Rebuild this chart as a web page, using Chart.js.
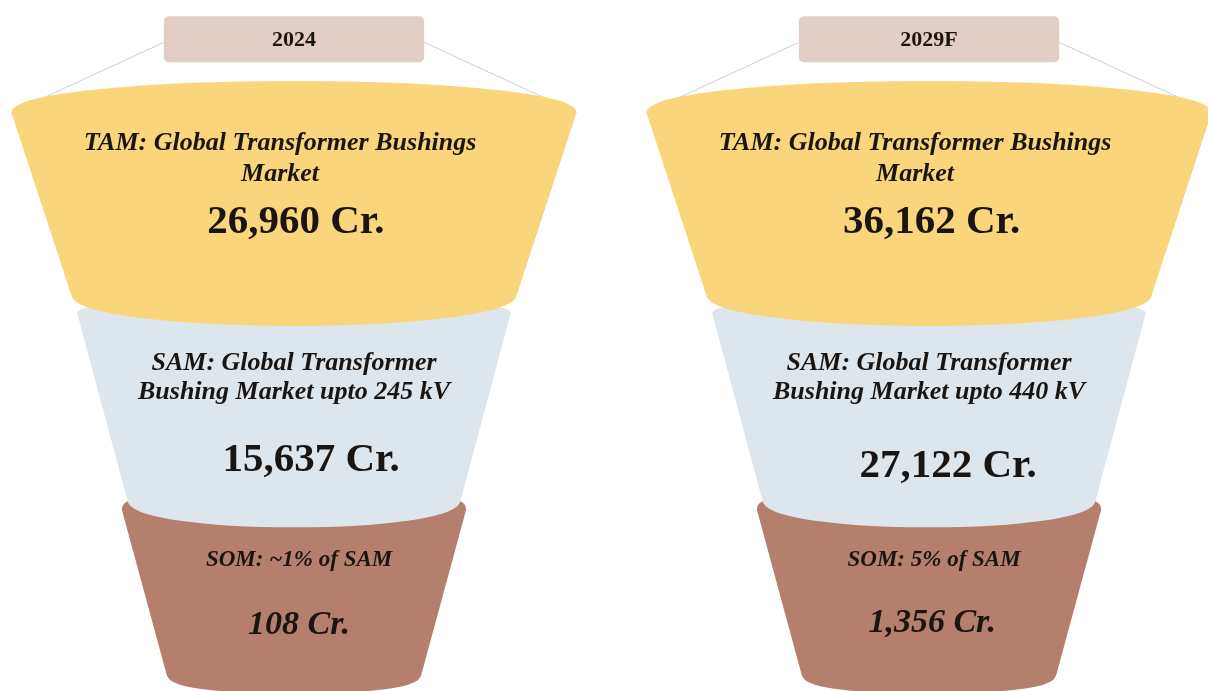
<!DOCTYPE html>
<html>
<head>
<meta charset="utf-8">
<script src="https://cdn.jsdelivr.net/npm/chart.js@4.4.1/dist/chart.umd.min.js"></script>
<style>
  html, body { margin: 0; padding: 0; background: #ffffff; }
  #wrap { width: 1208px; height: 691px; position: relative; }
</style>
</head>
<body>
<div id="wrap"><canvas id="c"></canvas></div>
<script>
// ---------------- data ----------------
const years = ['2024', '2029F'];
const levels = ['TAM', 'SAM', 'SOM'];
const tamValues = [26960, 36162];
const samValues = [15637, 27122];
const somValues = [108, 1356];
const tamText = [['TAM: Global Transformer Bushings', 'Market'], ['TAM: Global Transformer Bushings', 'Market']];
const samText = [['SAM: Global Transformer', 'Bushing Market upto 245 kV'], ['SAM: Global Transformer', 'Bushing Market upto 440 kV']];
const somText = [['SOM: ~1% of SAM'], ['SOM: 5% of SAM']];
const valueUnit = ' Cr.';

const valuesByLevel = [tamValues, samValues, somValues];
const textByLevel = [tamText, samText, somText];

// ---------------- styles / layout (fractions of band height & column span) ----------------
const SERIF = '"Liberation Serif", "DejaVu Serif", serif';
const levelStyle = {
  TAM: { fill: '#F9D67B', round: 6,
         geom: { top: -0.34, rise: 0.14, bot: 0.555, drop: 0.14, hwTop: 0.440, hwBot: 0.346 },
         labelFont: 'italic bold 26px ' + SERIF, labelDy: [-0.19, -0.035], labelDx: -0.022,
         valueFont: 'bold 41px ' + SERIF, valueDy: [0.198, 0.198], valueDx: [0.003, 0.004] },
  SAM: { fill: '#DDE6ED', round: 8,
         geom: { top: -0.355, rise: 0.05, bot: 0.565, drop: 0.115, hwTop: 0.335, hwBot: 0.256 },
         labelFont: 'italic bold 26px ' + SERIF, labelDy: [-0.108, 0.034], labelDx: 0.0,
         valueFont: 'bold 41px ' + SERIF, valueDy: [0.369, 0.40], valueDx: [0.027, 0.03] },
  SOM: { fill: '#B47F6D', round: 14,
         geom: { top: -0.39, rise: 0.05, bot: 0.415, drop: 0.07, hwTop: 0.260, hwBot: 0.190 },
         labelFont: 'italic bold 23px ' + SERIF, labelDy: [-0.139], labelDx: 0.008,
         valueFont: 'italic bold 34px ' + SERIF, valueDy: [0.18, 0.17], valueDx: [0.008, 0.005] }
};
const yearBox = { fill: '#E3CDC7', line: '#C9CED7', font: 'bold 22px ' + SERIF,
                  dyBand: -0.2, halfHBand: 0.113, halfWSpan: 0.205, radius: 5 };
const textColor = '#1A1511';

function fmt(v) { return v.toLocaleString('en-US') + valueUnit; }

function segmentPath(ctx, cx, cy, band, span, g) {
  const yt = cy + g.top * band, yb = cy + g.bot * band;
  const ht = g.hwTop * span, hb = g.hwBot * span;
  ctx.beginPath();
  ctx.ellipse(cx, yt, ht, g.rise * band, 0, Math.PI, 2 * Math.PI);
  ctx.lineTo(cx + hb, yb);
  ctx.ellipse(cx, yb, hb, g.drop * band, 0, 0, Math.PI);
  ctx.closePath();
}

const funnelPlugin = {
  id: 'funnel',
  afterDatasetsDraw(chart) {
    const ctx = chart.ctx;
    const yS = chart.scales.y;
    const band = (yS.bottom - yS.top) / levels.length;
    const m0 = chart.getDatasetMeta(0);
    const span = m0.data[1].x - m0.data[0].x;

    ctx.save();
    // year boxes and connector lines
    const tg = levelStyle.TAM.geom;
    m0.data.forEach((pt, j) => {
      const bx = pt.x, by = yS.top + yearBox.dyBand * band;
      const hw = yearBox.halfWSpan * span, hh = yearBox.halfHBand * band;
      const cornerY = pt.y + tg.top * band;
      ctx.strokeStyle = yearBox.line; ctx.lineWidth = 1;
      ctx.beginPath();
      ctx.moveTo(bx - hw, by + 3); ctx.lineTo(bx - tg.hwTop * span - 3, cornerY);
      ctx.moveTo(bx + hw, by + 3); ctx.lineTo(bx + tg.hwTop * span + 3, cornerY);
      ctx.stroke();
      ctx.fillStyle = yearBox.fill;
      ctx.beginPath();
      ctx.roundRect(bx - hw, by - hh, 2 * hw, 2 * hh, yearBox.radius);
      ctx.fill();
      ctx.fillStyle = textColor; ctx.font = yearBox.font;
      ctx.textAlign = 'center'; ctx.textBaseline = 'middle';
      ctx.fillText(chart.data.labels[j], bx, by + 1);
    });

    // funnel segments, bottom level first so upper ones overlap
    ctx.lineJoin = 'round';
    for (let d = chart.data.datasets.length - 1; d >= 0; d--) {
      const ds = chart.data.datasets[d];
      const st = levelStyle[ds.label];
      chart.getDatasetMeta(d).data.forEach((pt) => {
        segmentPath(ctx, pt.x, pt.y, band, span, st.geom);
        ctx.fillStyle = st.fill;
        ctx.strokeStyle = st.fill;
        ctx.lineWidth = st.round;
        ctx.fill();
        ctx.stroke();
      });
    }

    // texts
    ctx.fillStyle = textColor;
    ctx.textAlign = 'center'; ctx.textBaseline = 'middle';
    chart.data.datasets.forEach((ds, d) => {
      const st = levelStyle[ds.label];
      chart.getDatasetMeta(d).data.forEach((pt, j) => {
        const raw = ds.data[j];
        ctx.font = st.labelFont;
        raw.text.forEach((line, k) => {
          ctx.fillText(line, pt.x + st.labelDx * span, pt.y + st.labelDy[k] * band);
        });
        ctx.font = st.valueFont;
        ctx.fillText(fmt(raw.v), pt.x + st.valueDx[j] * span, pt.y + st.valueDy[j] * band);
      });
    });
    ctx.restore();
  }
};

new Chart(document.getElementById('c'), {
  type: 'scatter',
  data: {
    labels: years,
    datasets: levels.map((lv, i) => ({
      label: lv,
      data: years.map((yr, j) => ({ x: yr, y: lv, v: valuesByLevel[i][j], text: textByLevel[i][j] })),
      pointRadius: 0, pointHoverRadius: 0
    }))
  },
  options: {
    responsive: true, maintainAspectRatio: false, animation: false, events: [],
    layout: { padding: { left: 294, right: 279, top: 80, bottom: 1 } },
    plugins: { legend: { display: false }, tooltip: { enabled: false } },
    scales: {
      x: { type: 'category', labels: years, offset: false, display: false },
      y: { type: 'category', labels: levels, offset: true, display: false }
    }
  },
  plugins: [funnelPlugin]
});
</script>
</body>
</html>
